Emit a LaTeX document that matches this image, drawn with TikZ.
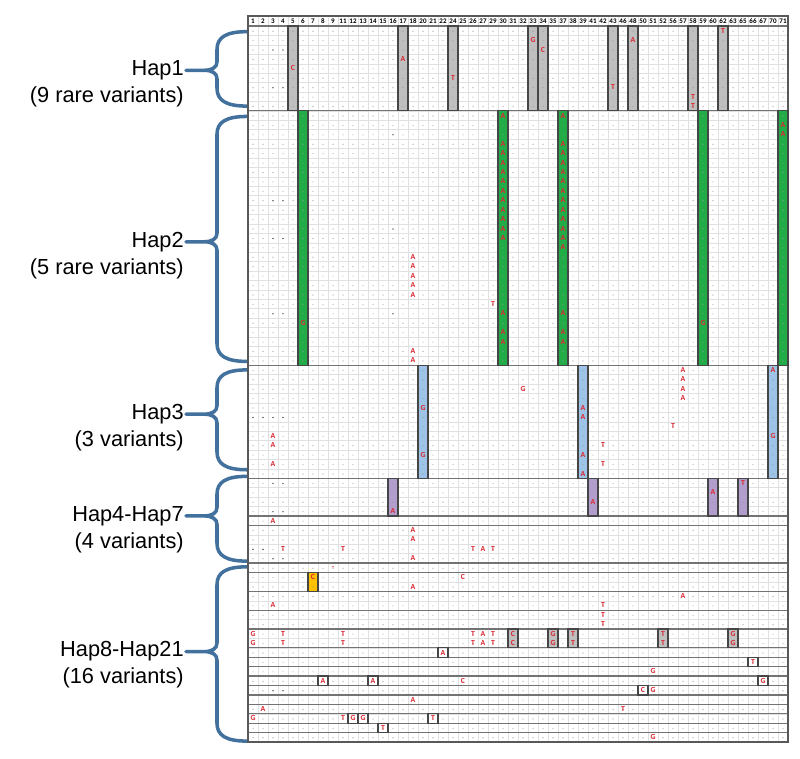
\documentclass[tikz,border=0pt]{standalone}
\usepackage{fontspec}
\setmainfont{Carlito}
\newfontfamily\labelfont{Liberation Sans}
\usepackage{tikz}

\definecolor{snpred}{RGB}{222,38,48}
\definecolor{hapgray}{RGB}{191,191,191}
\definecolor{hapgreen}{RGB}{34,172,72}
\definecolor{hapblue}{RGB}{157,195,230}
\definecolor{happurple}{RGB}{178,158,204}
\definecolor{haporange}{RGB}{255,192,0}
\definecolor{braceblue}{RGB}{65,113,156}
\definecolor{boxline}{RGB}{70,70,70}

\tikzset{
    cellline/.style={draw=black!12, line width=0.25pt},
    hapline/.style={draw=black!55, line width=0.9pt},
    varcol/.style={draw=boxline, line width=0.9pt},
    varbox/.style={draw=boxline, line width=0.9pt},
    snp/.style={text=snpred, font=\fontsize{5.5}{6}\selectfont\bfseries, inner sep=0pt},
    colno/.style={font=\fontsize{5}{6}\selectfont\bfseries, inner sep=0pt},
    hapbrace/.style={draw=braceblue, line width=2.5pt, line join=round},
    haplabel/.style={font=\labelfont\fontsize{15.5}{19.2}\selectfont, align=right, anchor=east, inner sep=0pt}
}

\newcommand{\drawbrace}[3]{%
    \draw[hapbrace] (-0.1,#1) .. controls (-2.2,#1) and (-3.1,#1+0.6) .. (-3.1,#1+1.9)
        -- (-3.1,#2-0.9) .. controls (-3.1,#2-0.3) and (-3.6,#2) .. (-4.4,#2) -- (-6.2,#2) -- (-4.4,#2)
        .. controls (-3.6,#2) and (-3.1,#2+0.3) .. (-3.1,#2+0.9)
        -- (-3.1,#3-1.9) .. controls (-3.1,#3-0.6) and (-2.2,#3) .. (-0.1,#3);}

\begin{document}
\begin{tikzpicture}[x=0.25cm, y=-0.23553cm]
    \path[use as bounding box, fill=white] (-24.8,-2.76) rectangle (55.2,77.7);

    \foreach \c in {0,...,54} {
        \draw[cellline] (\c,-1.06) -- (\c,76);
    }
    \foreach \r in {0,...,75} {
        \draw[cellline] (0,\r) -- (54,\r);
    }
    \foreach \r in {0,9,36,48,52,53,57,58,60,62,64,66,67,68,69,70,71,72,73,74,75} {
        \draw[hapline] (0,\r) -- (54,\r);
    }
    \draw[hapline, draw=black!65] (0,-1.06) rectangle (54,76);

    \foreach \c in {4,15,20,28,29,36,38,44,47} {
        \draw[varcol, fill=hapgray] (\c,0) rectangle (\c+1,9);
    }
    \foreach \c in {5,25,31,45,53} {
        \draw[varcol, fill=hapgreen] (\c,9) rectangle (\c+1,36);
    }
    \foreach \c in {17,33,52} {
        \draw[varcol, fill=hapblue] (\c,36) rectangle (\c+1,48);
    }
    \foreach \c in {14,34,46,49} {
        \draw[varcol, fill=happurple] (\c,48) rectangle (\c+1,52);
    }
    \draw[varcol, fill=haporange] (6,58) rectangle (7,60);
    \foreach \c in {26,30,32,41,48} {
        \draw[varcol, fill=hapgray] (\c,64) rectangle (\c+1,66);
    }
    \foreach \c/\r in {19/66,50/67,7/69,12/69,51/69,39/70,10/73,11/73,18/73,13/74} {
        \draw[varbox] (\c,\r) rectangle (\c+1,\r+1);
    }

    \foreach \r in {0,...,75} {
        \fill[black!40] \foreach \c in {0,...,53} {(\c+.5,\r+.55) circle (0.4pt)};
    }
    \foreach \c/\r in {2/2,3/2,2/6,3/6,2/18,3/18,2/22,3/22,2/30,3/30,14/11,14/21,14/30,
        0/41,1/41,2/41,3/41,2/48,3/48,2/51,3/51,0/55,1/55,2/56,3/56,2/70,3/70} {
        \fill[black!85] (\c+.5,\r+.55) circle (0.45pt);
    }

    \foreach \l [count=\i from 0] in {1,2,3,4,5,6,7,8,9,11,12,13,14,15,16,17,18,20,21,22,24,25,26,27,29,30,
        31,32,33,34,35,37,38,39,41,42,43,46,48,50,51,52,56,57,58,59,60,62,63,65,66,67,70,71} {
        \node[colno] (col-\l) at (\i+.5,-.53) {\l};
    }

    \foreach \r in {9,12,13,14,15,16,17,18,19,20,21,22,30,32,33} {
        \node[snp] (snp-25-\r) at (25.5,\r+.5) {A};
        \node[snp] (snp-31-\r) at (31.5,\r+.5) {A};
    }
    \foreach \r in {64,65} {
        \foreach \c/\b in {0/G,3/T,9/T,22/T,23/A,24/T,26/C,30/G,32/T,41/T,48/G} {
            \node[snp] (snp-\c-\r) at (\c+.5,\r+.5) {\b};
        }
    }
    \foreach \c/\r/\b in {4/4/C,15/3/A,20/5/T,28/1/G,29/2/C,36/6/T,38/1/A,44/7/T,44/8/T,47/0/T,
        31/23/A,53/10/A,53/11/A,16/24/A,16/25/A,16/26/A,16/27/A,16/28/A,16/34/A,16/35/A,
        24/29/T,5/31/G,45/31/G,
        43/36/A,43/37/A,43/38/A,43/39/A,52/36/A,27/38/G,33/40/A,33/41/A,33/45/A,33/47/A,
        42/42/T,35/44/T,35/46/T,52/43/G,17/40/G,17/45/G,2/43/A,2/44/A,2/46/A,
        49/48/T,46/49/A,34/50/A,14/51/A,2/52/A,16/53/A,16/54/A,16/56/A,
        3/55/T,9/55/T,22/55/T,23/55/A,24/55/T,8/57/-,
        6/58/C,21/58/C,16/59/A,43/60/A,2/61/A,35/61/T,35/62/T,35/63/T,
        19/66/A,50/67/T,40/68/G,7/69/A,12/69/A,21/69/C,51/69/G,39/70/C,40/70/G,
        16/71/A,1/72/A,37/72/T,0/73/G,9/73/T,10/73/G,11/73/G,18/73/T,13/74/T,40/75/G} {
        \node[snp] (snp-\c-\r) at (\c+.5,\r+.5) {\b};
    }

    \drawbrace{0.6}{4.7}{8.5}
    \drawbrace{9.6}{22.9}{35.6}
    \drawbrace{36.5}{41.2}{47.1}
    \drawbrace{47.8}{52}{56.8}
    \drawbrace{57.4}{66.4}{75.9}

    \node[haplabel] (hap1) at (-6.4,6.13) {Hap1\\(9 rare variants)};
    \node[haplabel] (hap2) at (-6.4,24.33) {Hap2\\(5 rare variants)};
    \node[haplabel] (hap3) at (-6.4,42.63) {Hap3\\(3 variants)};
    \node[haplabel] (hap47) at (-6.4,53.43) {Hap4-Hap7\\(4 variants)};
    \node[haplabel] (hap821) at (-6.4,67.83) {Hap8-Hap21\\(16 variants)};
\end{tikzpicture}
\end{document}
